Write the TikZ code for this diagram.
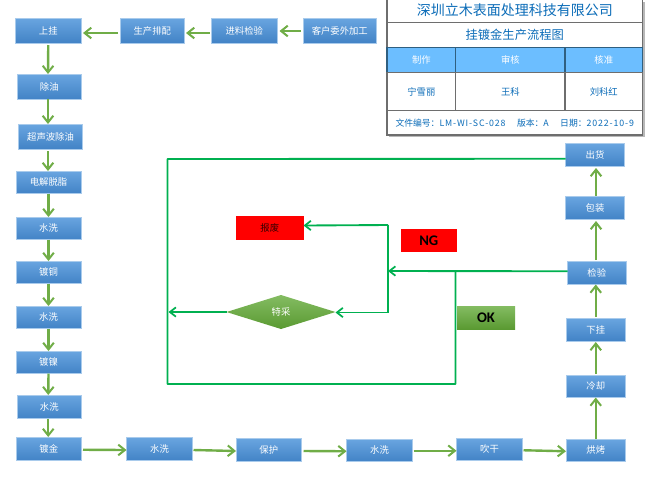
\documentclass[tikz,border=0pt]{standalone}
\usepackage{fontspec}
\setmainfont{Noto Sans CJK SC}
\newfontfamily\latinbold{Carlito}
\usetikzlibrary{arrows.meta,shapes.geometric}
\definecolor{bluetop}{HTML}{69A5E0}
\definecolor{bluebot}{HTML}{4283C6}
\definecolor{bluebd}{HTML}{A9CBEC}
\definecolor{garrowc}{HTML}{70AD47}
\definecolor{gline}{HTML}{00B050}
\definecolor{greentop}{HTML}{84BC62}
\definecolor{greenbot}{HTML}{5A9A32}
\definecolor{tabletxt}{HTML}{0B6CB8}
\definecolor{tablehead}{HTML}{6CBEFF}
\definecolor{tablebd}{HTML}{6E6E6E}
\definecolor{headbd}{HTML}{2F5F80}
\tikzset{
  x=0.75pt,y=-0.75pt,
  stepbox/.style={rectangle,draw=bluebd,line width=0.5pt,top color=bluetop,bottom color=bluebot,
    text=white,font=\fontsize{7}{8}\selectfont,inner sep=0pt,outer sep=0pt},
  redbox/.style={rectangle,draw=none,fill=red,inner sep=0pt,outer sep=0pt},
  okbox/.style={rectangle,draw=none,top color=greentop,bottom color=greenbot,inner sep=0pt,outer sep=0pt,
    font=\fontsize{11}{12}\latinbold\bfseries\selectfont},
  decide/.style={diamond,aspect=3.2,draw=none,top color=greentop,bottom color=greenbot,text=white,inner sep=0pt,outer sep=0pt,
    font=\fontsize{7}{8}\selectfont},
  cell/.style={rectangle,draw=tablebd,line width=1pt,fill=white,text=tabletxt,inner sep=0pt,outer sep=0pt},
  headcell/.style={rectangle,draw=headbd,line width=1.1pt,fill=tablehead,text=white,inner sep=0pt,outer sep=0pt,
    font=\fontsize{7}{8}\selectfont},
  flow/.style={draw=garrowc,line width=1.8pt,-{Straight Barb[length=5pt,width=8pt,line width=1.5pt]}},
  ret/.style={draw=gline,line width=1.4pt,-{Straight Barb[length=4.5pt,width=7pt,line width=1.3pt]}},
  retline/.style={draw=gline,line width=1.4pt,line join=round},
}
\newcommand{\bx}[7][stepbox]{\node[#1,minimum width={(#4-#2)*0.75pt},minimum height={(#5-#3)*0.75pt}] (#6) at ({(#2+#4)/2},{(#3+#5)/2}) {#7};}
\begin{document}
\begin{tikzpicture}
\useasboundingbox (0,0) rectangle (656,480);
% header table
\fill[black!28] (389,2) rectangle (645,137);
\bx[cell,font=\fontsize{10.5}{12}\selectfont]{387}{-2}{642.5}{22.7}{t1}{深圳立木表面处理科技有限公司}
\bx[cell,font=\fontsize{9.2}{10}\selectfont]{387}{22.7}{642.5}{47.7}{t2}{挂镀金生产流程图}
\bx[headcell]{387}{47.7}{455.7}{72.7}{h1}{制作}
\bx[headcell]{455.7}{47.7}{565}{72.7}{h2}{审核}
\bx[headcell]{565}{47.7}{642.5}{72.7}{h3}{核准}
\bx[cell,font=\fontsize{7}{8}\selectfont]{387}{72.7}{455.7}{110.7}{c1}{宁雪丽}
\bx[cell,font=\fontsize{7}{8}\selectfont]{455.7}{72.7}{565}{110.7}{c2}{王科}
\bx[cell,font=\fontsize{7}{8}\selectfont]{565}{72.7}{642.5}{110.7}{c3}{刘科红}
\bx[cell,font=\fontsize{6.6}{7}\selectfont]{387}{110.7}{642.5}{135}{t3}{文件编号：{\addfontfeature{LetterSpace=10}LM-WI-SC-028}\hspace{1.3em}版本：A\hspace{1.3em}日期：{\addfontfeature{LetterSpace=10}2022-10-9}}
% steps
\bx{15.5}{18}{81}{43}{s1}{上挂}
\bx{120}{18}{184.5}{43}{s2}{生产排配}
\bx{211}{18}{277.5}{43}{s3}{进料检验}
\bx{303}{18}{376.5}{43}{s4}{客户委外加工}
\bx{17.5}{74}{81}{99}{s5}{除油}
\bx{18.5}{124}{82.5}{149}{s6}{超声波除油}
\bx{16}{171}{81}{193.5}{s7}{电解脱脂}
\bx{16}{217}{81}{239.5}{s8}{水洗}
\bx{16}{261}{81}{283.5}{s9}{镀铜}
\bx{16}{306}{81}{328.5}{s10}{水洗}
\bx{16}{351}{81}{373.5}{s11}{镀镍}
\bx{17.5}{395}{81}{418.5}{s12}{水洗}
\bx{16.5}{437}{81}{460.5}{s13}{镀金}
\bx{126.5}{437.5}{192.5}{460.5}{s14}{水洗}
\bx{236}{438.5}{301.5}{461.5}{s15}{保护}
\bx{346.5}{439}{412.5}{461.5}{s16}{水洗}
\bx{456.5}{438}{522.5}{460.5}{s17}{吹干}
\bx{566}{439}{625.5}{461.5}{s18}{烘烤}
\bx{566}{375}{625.5}{397.5}{s19}{冷却}
\bx{566}{318}{625.5}{341}{s20}{下挂}
\bx{567.5}{261}{626}{284.5}{s21}{检验}
\bx{565.5}{196.5}{624.5}{219.5}{s22}{包装}
\bx{565.5}{143}{624.5}{166.5}{s23}{出货}
% red and green labels
\bx[redbox,text=black!80!red,font=\fontsize{7}{8}\selectfont]{236}{215.5}{303.5}{239.5}{scrap}{报废}
\bx[redbox,font=\fontsize{11}{12}\latinbold\bfseries\selectfont]{400.5}{229}{457}{252}{ng}{NG}
\bx[okbox]{457}{306}{515}{329}{ok}{OK}
\bx[decide]{226.5}{295}{335.5}{329}{tc}{特采}
% named turning points
\coordinate (j1) at (388,271);
\coordinate (j2) at (388,225);
\coordinate (j3) at (388,312.5);
\coordinate (j4) at (455.5,271);
\coordinate (j5) at (455.5,384);
\coordinate (j6) at (167.5,384);
\coordinate (j7) at (167.5,159);
\coordinate (j8) at (168.5,312);
% main flow
\draw[flow] ([shift={(-2,2.5)}]s2.west) -- ([shift={(2,2.5)}]s1.east);
\draw[flow] ([shift={(-1.5,2.5)}]s3.west) -- ([shift={(1.5,2.5)}]s2.east);
\draw[flow] ([shift={(-2,0.5)}]s4.west) -- ([shift={(2,0.5)}]s3.east);
\draw[flow] ([shift={(0,2)}]s1.south) -- ([shift={(-1.25,0)}]s5.north);
\draw[flow] ([shift={(-1.25,0)}]s5.south) -- ([shift={(-2.5,0)}]s6.north);
\draw[flow] ([shift={(-2.5,2)}]s6.south) -- ([shift={(-0.5,0)}]s7.north);
\draw[flow] (s7.south) -- (s8.north);
\draw[flow] (s8.south) -- (s9.north);
\draw[flow] (s9.south) -- (s10.north);
\draw[flow] (s10.south) -- (s11.north);
\draw[flow] (s11.south) -- ([shift={(-1,0)}]s12.north);
\draw[flow] ([shift={(-1,0)}]s12.south) -- ([shift={(-0.5,0)}]s13.north);
\draw[flow] ([shift={(2,1)}]s13.east) -- ([shift={(0,1)}]s14.west);
\draw[flow] ([shift={(1,1)}]s14.east) -- ([shift={(0,1)}]s15.west);
\draw[flow] ([shift={(2,1)}]s15.east) -- ([shift={(0,1)}]s16.west);
\draw[flow] ([shift={(1,0.5)}]s16.east) -- ([shift={(0,1.5)}]s17.west);
\draw[flow] ([shift={(1,1)}]s17.east) -- ([shift={(0,1)}]s18.west);
\draw[flow] (s18.north) -- (s19.south);
\draw[flow] ([shift={(0,-1)}]s19.north) -- ([shift={(0,1)}]s20.south);
\draw[flow] ([shift={(0,-1)}]s20.north) -- ([shift={(-1,0)}]s21.south);
\draw[flow] ([shift={(-0.75,-1)}]s21.north) -- ([shift={(1,1.5)}]s22.south);
\draw[flow] ([shift={(1,-1)}]s22.north) -- ([shift={(1,1.5)}]s23.south);
% return lines
\draw[ret] ([shift={(0,-1.5)}]s21.west) -- (j1);
\draw[retline] (j2) -- (j3);
\draw[ret] (j2) -- ([shift={(0,-2)}]scrap.east);
\draw[ret] (j3) -- ([shift={(0,0.5)}]tc.east);
\draw[ret] (tc.west) -- (j8);
\draw[retline] (j4) -- (j5) -- (j6) -- (j7) -- ([shift={(0,4)}]s23.west);
\end{tikzpicture}
\end{document}
